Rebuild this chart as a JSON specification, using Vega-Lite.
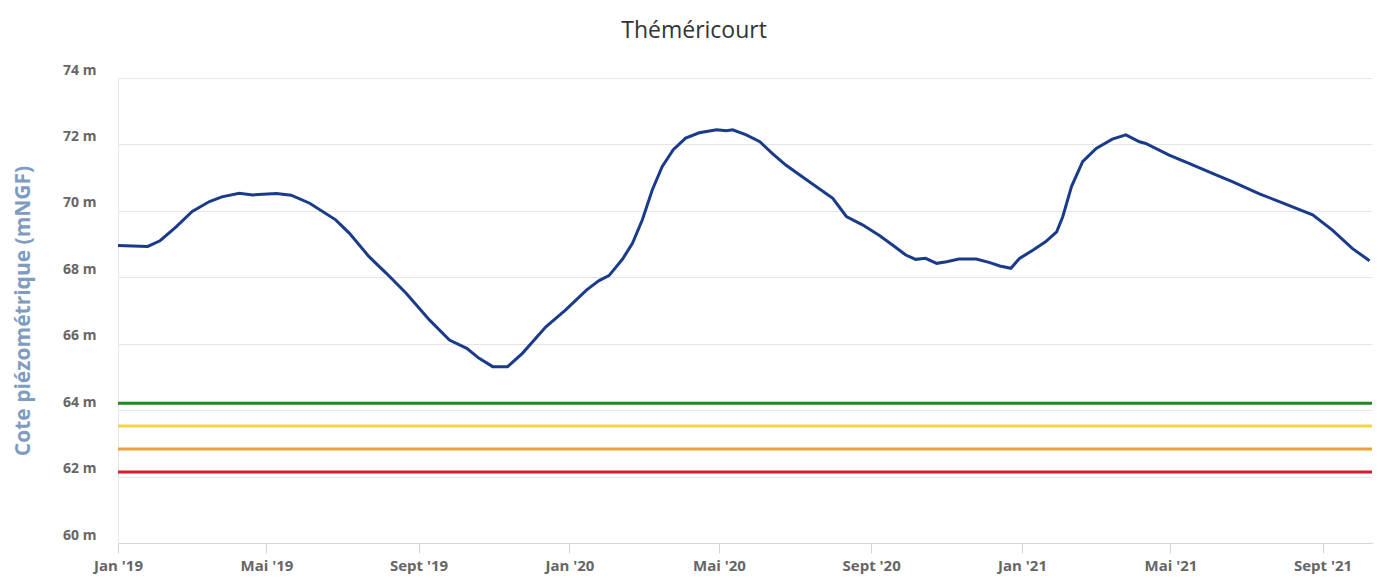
{
  "$schema": "https://vega.github.io/schema/vega-lite/v6.json",
  "autosize": "none",
  "width": 1254,
  "height": 465,
  "padding": {"left": 118, "top": 78, "right": 9, "bottom": 35},
  "background": "#ffffff",
  "title": {
    "text": "Théméricourt",
    "anchor": "middle",
    "frame": "bounds",
    "font": "Open Sans",
    "fontSize": 23,
    "fontWeight": "normal",
    "color": "#333333",
    "offset": 20
  },
  "config": {
    "view": {"stroke": null},
    "font": "Open Sans"
  },
  "datasets": {
    "niveau": [
      {"date": "2019-01-01", "cote": 68.96},
      {"date": "2019-01-25", "cote": 68.93},
      {"date": "2019-02-04", "cote": 69.10},
      {"date": "2019-02-17", "cote": 69.52},
      {"date": "2019-03-02", "cote": 69.98},
      {"date": "2019-03-16", "cote": 70.28},
      {"date": "2019-03-26", "cote": 70.42},
      {"date": "2019-04-09", "cote": 70.53},
      {"date": "2019-04-20", "cote": 70.48},
      {"date": "2019-05-09", "cote": 70.52},
      {"date": "2019-05-21", "cote": 70.47},
      {"date": "2019-06-05", "cote": 70.23},
      {"date": "2019-06-26", "cote": 69.73},
      {"date": "2019-07-07", "cote": 69.33},
      {"date": "2019-07-23", "cote": 68.62},
      {"date": "2019-08-06", "cote": 68.12},
      {"date": "2019-08-22", "cote": 67.52},
      {"date": "2019-09-10", "cote": 66.71},
      {"date": "2019-09-26", "cote": 66.11},
      {"date": "2019-10-10", "cote": 65.86},
      {"date": "2019-10-20", "cote": 65.56},
      {"date": "2019-10-31", "cote": 65.31},
      {"date": "2019-11-12", "cote": 65.31},
      {"date": "2019-11-24", "cote": 65.71},
      {"date": "2019-12-13", "cote": 66.51},
      {"date": "2019-12-29", "cote": 67.02},
      {"date": "2020-01-15", "cote": 67.62},
      {"date": "2020-01-25", "cote": 67.90},
      {"date": "2020-02-02", "cote": 68.05},
      {"date": "2020-02-08", "cote": 68.32},
      {"date": "2020-02-13", "cote": 68.55},
      {"date": "2020-02-21", "cote": 69.02},
      {"date": "2020-02-29", "cote": 69.73},
      {"date": "2020-03-08", "cote": 70.63},
      {"date": "2020-03-16", "cote": 71.33},
      {"date": "2020-03-25", "cote": 71.84},
      {"date": "2020-04-04", "cote": 72.19},
      {"date": "2020-04-15", "cote": 72.35},
      {"date": "2020-04-29", "cote": 72.44},
      {"date": "2020-05-07", "cote": 72.41},
      {"date": "2020-05-12", "cote": 72.44},
      {"date": "2020-05-23", "cote": 72.29},
      {"date": "2020-06-03", "cote": 72.08},
      {"date": "2020-06-13", "cote": 71.73},
      {"date": "2020-06-24", "cote": 71.38},
      {"date": "2020-07-11", "cote": 70.93},
      {"date": "2020-08-01", "cote": 70.38},
      {"date": "2020-08-12", "cote": 69.83},
      {"date": "2020-08-25", "cote": 69.58},
      {"date": "2020-09-08", "cote": 69.25},
      {"date": "2020-09-18", "cote": 68.98},
      {"date": "2020-09-29", "cote": 68.67},
      {"date": "2020-10-07", "cote": 68.54},
      {"date": "2020-10-15", "cote": 68.57},
      {"date": "2020-10-24", "cote": 68.42},
      {"date": "2020-11-01", "cote": 68.47},
      {"date": "2020-11-11", "cote": 68.55},
      {"date": "2020-11-25", "cote": 68.55},
      {"date": "2020-12-06", "cote": 68.44},
      {"date": "2020-12-14", "cote": 68.34},
      {"date": "2020-12-23", "cote": 68.27},
      {"date": "2020-12-30", "cote": 68.57},
      {"date": "2021-01-10", "cote": 68.82},
      {"date": "2021-01-20", "cote": 69.07},
      {"date": "2021-01-29", "cote": 69.37},
      {"date": "2021-02-03", "cote": 69.83},
      {"date": "2021-02-10", "cote": 70.73},
      {"date": "2021-02-19", "cote": 71.48},
      {"date": "2021-03-02", "cote": 71.88},
      {"date": "2021-03-15", "cote": 72.16},
      {"date": "2021-03-26", "cote": 72.29},
      {"date": "2021-04-06", "cote": 72.08},
      {"date": "2021-04-11", "cote": 72.03},
      {"date": "2021-04-30", "cote": 71.68},
      {"date": "2021-05-16", "cote": 71.43},
      {"date": "2021-06-04", "cote": 71.13},
      {"date": "2021-06-20", "cote": 70.88},
      {"date": "2021-07-12", "cote": 70.51},
      {"date": "2021-07-28", "cote": 70.28},
      {"date": "2021-08-24", "cote": 69.88},
      {"date": "2021-09-09", "cote": 69.42},
      {"date": "2021-09-25", "cote": 68.87},
      {"date": "2021-10-09", "cote": 68.50}
    ],
    "seuils": [
      {"seuil": "vigilance", "cote": 64.21},
      {"seuil": "alerte", "cote": 63.52},
      {"seuil": "alerte renforcée", "cote": 62.83},
      {"seuil": "crise", "cote": 62.14}
    ]
  },
  "layer": [
    {
      "data": {"name": "seuils"},
      "mark": {"type": "rule", "strokeWidth": 3},
      "encoding": {
        "y": {"field": "cote", "type": "quantitative", "scale": {"domain": [60, 74], "nice": false}},
        "color": {
          "field": "seuil",
          "type": "nominal",
          "scale": {
            "domain": ["vigilance", "alerte", "alerte renforcée", "crise"],
            "range": ["#1f8a1f", "#f5d547", "#eba235", "#d81b2c"]
          },
          "legend": null
        }
      }
    },
    {
      "data": {"name": "niveau"},
      "mark": {"type": "line", "stroke": "#1a3a8a", "strokeWidth": 3, "interpolate": "linear"},
      "encoding": {
        "x": {
          "field": "date",
          "type": "temporal",
          "scale": {"type": "utc", "domain": ["2019-01-01", "2021-10-11"]},
          "axis": {
            "title": null,
            "values": [
              {"year": 2019, "month": 1, "date": 1, "utc": true},
              {"year": 2019, "month": 5, "date": 1, "utc": true},
              {"year": 2019, "month": 9, "date": 1, "utc": true},
              {"year": 2020, "month": 1, "date": 1, "utc": true},
              {"year": 2020, "month": 5, "date": 1, "utc": true},
              {"year": 2020, "month": 9, "date": 1, "utc": true},
              {"year": 2021, "month": 1, "date": 1, "utc": true},
              {"year": 2021, "month": 5, "date": 1, "utc": true},
              {"year": 2021, "month": 9, "date": 1, "utc": true}
            ],
            "labelExpr": "(utcmonth(datum.value) == 0 ? 'Jan' : utcmonth(datum.value) == 4 ? 'Mai' : 'Sept') + \" '\" + utcFormat(datum.value, '%y')",
            "grid": false,
            "domainColor": "#ccd6eb",
            "domainWidth": 1,
            "tickColor": "#ccd6eb",
            "tickSize": 10,
            "labelFont": "Open Sans",
            "labelFontSize": 15,
            "labelFontWeight": "bold",
            "labelColor": "#666666",
            "labelPadding": 5,
            "labelFlush": false
          }
        },
        "y": {
          "field": "cote",
          "type": "quantitative",
          "scale": {"domain": [60, 74], "nice": false, "zero": false},
          "axis": {
            "title": "Cote piézométrique (mNGF)",
            "titleFont": "Open Sans",
            "titleFontSize": 21,
            "titleFontWeight": "bold",
            "titleColor": "#7f9cc0",
            "titlePadding": 29,
            "values": [60, 62, 64, 66, 68, 70, 72, 74],
            "labelExpr": "datum.value + ' m'",
            "labelFont": "Open Sans",
            "labelFontSize": 14,
            "labelFontWeight": "bold",
            "labelColor": "#666666",
            "labelPadding": 22,
            "labelOffset": -8,
            "ticks": false,
            "grid": true,
            "gridColor": "#e6e6e6",
            "domain": true,
            "domainColor": "#e6e6e6"
          }
        }
      }
    }
  ]
}
